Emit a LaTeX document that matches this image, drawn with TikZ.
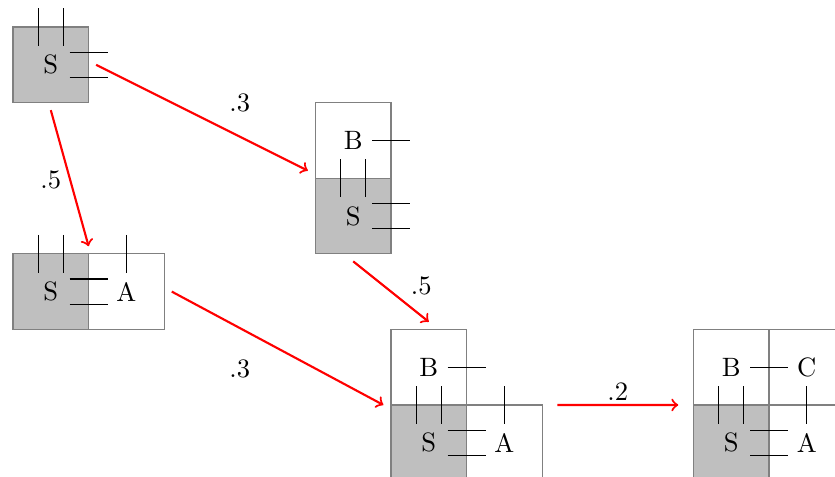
\documentclass[tikz,border=0pt]{standalone}
\usepackage{tikz}
\usetikzlibrary{arrows}
\tikzstyle{arr}=[->,thick,red]
\tikzstyle{cell}=[draw=gray,minimum size=1cm,inner sep=0pt,outer sep=0pt]
\tikzstyle{cellS}=[cell,fill=lightgray]
\tikzstyle{prob}=[inner sep=1pt]
% dangling bonds of each atom kind
\newcommand\bondsS[1]{%
  \foreach \d in {-1,1} {
    \draw ([shift={(\d/6,0.25)}]#1.north) -- +(0,-0.5);
    \draw ([shift={(-0.25,\d/6)}]#1.east) -- +(0.5,0);
  }}
\newcommand\bondsB[1]{\draw ([xshift=-0.25cm]#1.east) -- +(0.5,0);}
\newcommand\bondsA[1]{\draw ([yshift=0.25cm]#1.north) -- +(0,-0.5);}

\begin{document}
\begin{tikzpicture}
\useasboundingbox (-0.172,0.357) rectangle (10.873,-5.952);
\clip (-0.172,0.357) rectangle (10.873,-5.952);
% states
\node[cellS] (s1) at (0.5,-0.5) {S};
\node[cell] (b2) at (4.5,-1.5) {B};
\node[cellS] (s2) at (4.5,-2.5) {S};
\node[cellS] (s3) at (0.5,-3.5) {S};
\node[cell] (a3) at (1.5,-3.5) {A};
\node[cell] (b4) at (5.5,-4.5) {B};
\node[cellS] (s4) at (5.5,-5.5) {S};
\node[cell] (a4) at (6.5,-5.5) {A};
\node[cell] (b5) at (9.5,-4.5) {B};
\node[cell] (c5) at (10.5,-4.5) {C};
\node[cellS] (s5) at (9.5,-5.5) {S};
\node[cell] (a5) at (10.5,-5.5) {A};
% bonds
\bondsS{s1}
\bondsB{b2} \bondsS{s2}
\bondsS{s3} \bondsA{a3}
\bondsB{b4} \bondsS{s4} \bondsA{a4}
\bondsB{b5} \bondsS{s5} \bondsA{a5}
% transitions
\draw[arr] ([xshift=0.1cm]s1.east) -- ([shift={(-0.1,0.1)}]b2.south west);
\draw[arr] ([yshift=-0.1cm]s1.south) -- ([yshift=0.1cm]s3.north east);
\draw[arr] ([yshift=-0.1cm]s2.south) -- ([yshift=0.1cm]b4.north);
\draw[arr] ([xshift=0.1cm]a3.east) -- ([xshift=-0.1cm]b4.south west);
\draw[arr] ([xshift=0.2cm]a4.north east) -- ([xshift=-0.2cm]b5.south west);
\node[prob] (p1) at (3,-1) {.3};
\node[prob] (p2) at (0.5,-2.02) {.5};
\node[prob] (p3) at (5.4,-3.43) {.5};
\node[prob] (p4) at (3,-4.52) {.3};
\node[prob] (p5) at (8,-4.83) {.2};
\end{tikzpicture}
\end{document}
